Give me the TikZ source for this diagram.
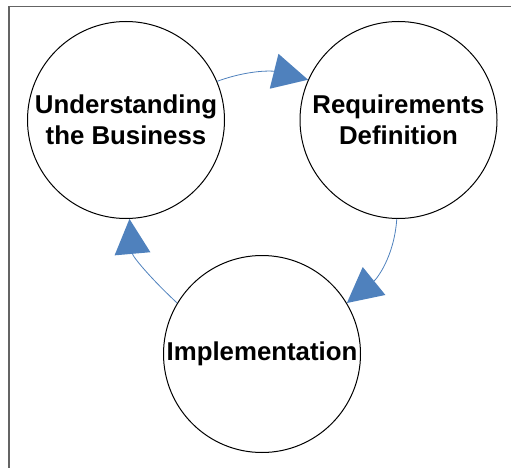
\documentclass[tikz,border=0pt]{standalone}
\usepackage{fontspec}
\setmainfont{Liberation Sans}
\usetikzlibrary{arrows.meta}
\definecolor{arrowblue}{RGB}{79,129,189}
\definecolor{framegray}{RGB}{100,100,100}
\begin{document}
\begin{tikzpicture}[x=1pt,y=1pt,
  stage/.style={circle,draw=black,line width=1pt,minimum size=197pt,inner sep=0pt,
    align=center,font=\fontsize{25.8}{31}\selectfont\bfseries},
  cyc/.style={draw=arrowblue,line width=0.8pt,
    -{Triangle[length=35pt,width=36pt,fill=arrowblue,line width=0pt]}}]
\useasboundingbox (0,0) rectangle (511,-468);
\draw[framegray,line width=1.2pt] (9,-468) -- (9,-6.5) -- (511,-6.5);
\node[stage] (c1) at (126,-120) {Understanding\\the Business};
\node[stage] (c2) at (398.5,-120) {Requirements\\Definition};
\node[stage] (c3) at (262,-354) {Implementation};
\draw[cyc] (c1.23.7) to[out=20,in=166] (c2.156.4);
\draw[cyc] (c2.-91) to[out=-94,in=39] (c3.31);
\draw[cyc] (c3.149) to[out=137,in=-85] (c1.-88);
\end{tikzpicture}
\end{document}
